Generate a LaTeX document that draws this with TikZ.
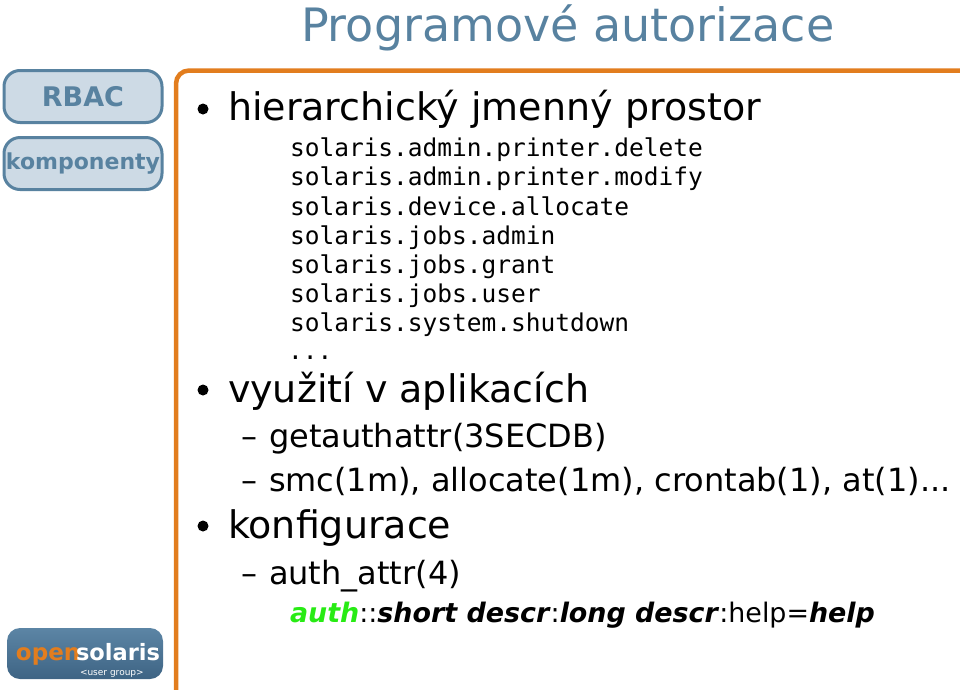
\documentclass[tikz,border=0pt]{standalone}
\usepackage{fontspec}
\setmainfont{DejaVu Sans}
\newfontfamily\mono{DejaVu Sans Mono}
\definecolor{steel}{RGB}{88,130,160}
\definecolor{pale}{RGB}{205,218,229}
\definecolor{orng}{RGB}{226,125,30}
\definecolor{lime}{RGB}{40,235,20}
\definecolor{logotop}{RGB}{92,133,165}
\definecolor{logobot}{RGB}{62,100,132}
\tikzset{
 x=1pt,y=-1pt,
 txt/.style={anchor=base west,inner sep=0pt,outer sep=0pt},
 lvla/.style={txt,font=\fontsize{38}{38}\selectfont},
 lvlb/.style={txt,font=\fontsize{32}{32}\selectfont},
 code/.style={txt,font=\mono\fontsize{24.5}{24.5}\selectfont},
 tab/.style={draw=steel,line width=3pt,fill=pale,rounded corners=16pt,text=steel,font=\bfseries,inner sep=0pt,minimum width=158pt,minimum height=52pt},
 bullet/.style={circle,fill=black,inner sep=0pt,minimum size=11pt},
}
\begin{document}
\begin{tikzpicture}
\useasboundingbox (0,0) rectangle (960,689);
\node[txt,text=steel,font=\fontsize{46}{46}\selectfont] (title) at (301,41) {Programové autorizace};
\node[tab,font=\bfseries\fontsize{27}{27}\selectfont] (rbac) at (83,96.5) {\raisebox{-1pt}{RBAC}};
\node[tab,font=\bfseries\fontsize{22}{22}\selectfont] (komp) at (83,163.5) {\raisebox{-2pt}{komponenty}};
\draw[draw=orng,line width=4.5pt,rounded corners=13pt] (176,700) -- (176,70.5) -- (970,70.5);
\node[bullet] (b1) at (203,109) {};
\node[lvla] (h1) at (228,120) {hierarchický jmenný prostor};
\node[code] at (290,156.5) {solaris.admin.printer.delete};
\node[code] at (290,185.5) {solaris.admin.printer.modify};
\node[code] at (290,215) {solaris.device.allocate};
\node[code] at (290,244) {solaris.jobs.admin};
\node[code] at (290,273) {solaris.jobs.grant};
\node[code] at (290,302) {solaris.jobs.user};
\node[code] at (290,331) {solaris.system.shutdown};
\node[code] at (288,359) {...};
\node[bullet] (b2) at (203,390) {};
\node[lvla] (h2) at (228,402) {využití v aplikacích};
\node[lvlb] at (241,447) {–};
\node[lvlb] at (269,447) {getauthattr(3SECDB)};
\node[lvlb] at (241,491) {–};
\node[lvlb] at (269,491) {smc(1m), allocate(1m), crontab(1), at(1)...};
\node[bullet] (b3) at (203,526) {};
\node[lvla] (h3) at (228,538) {konfigurace};
\node[lvlb] at (241,584) {–};
\node[lvlb] at (269,584) {auth\_attr(4)};
\node[txt,font=\fontsize{26.9}{26.9}\selectfont] at (290,622) {\textbf{\textit{\textcolor{lime}{auth}}}::\textbf{\textit{short descr}}:\textbf{\textit{long descr}}:help=\textbf{\textit{help}}};
% logo
\shade[top color=logotop,bottom color=logobot,rounded corners=13pt] (7,628) rectangle (163,679);
\node[txt,text=orng,font=\bfseries\fontsize{23}{23}\selectfont] at (16,660) {open};
\node[txt,text=white,font=\bfseries\fontsize{22.5}{22.5}\selectfont] at (76,660) {solaris};
\node[txt,text=white,font=\fontsize{9}{9}\selectfont] at (80,675) {<user group>};
\end{tikzpicture}
\end{document}
